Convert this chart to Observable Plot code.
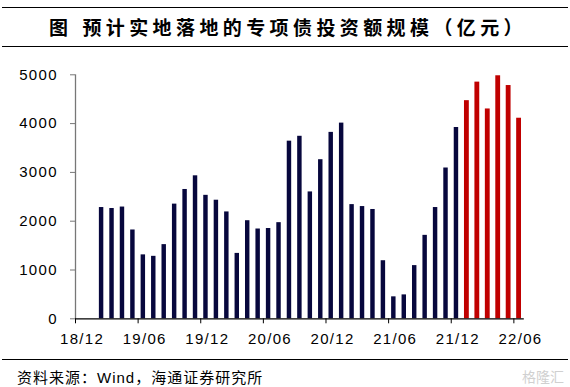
<!DOCTYPE html>
<html>
<head>
<meta charset="utf-8">
<script src="https://cdn.jsdelivr.net/npm/d3@7"></script>
<script src="https://cdn.jsdelivr.net/npm/@observablehq/plot@0.6"></script>
<style>
  html, body { margin: 0; padding: 0; background: #fff; }
  body { width: 570px; height: 387px; overflow: hidden; position: relative; font-family: "Liberation Sans", Arial, sans-serif; }
  #title { height: 50px; position: relative; }
  #title .box { position: absolute; left: 2px; right: 2px; top: 7px; height: 38px; border-top: 1px solid #000; border-bottom: 1px solid #000; }
  #title .txt { position: absolute; left: 47px; top: 0; line-height: 38px; font-family: "Noto Sans CJK SC", sans-serif; font-weight: bold; font-size: 19px; letter-spacing: 4.4px; color: #000; white-space: nowrap; }
  #title .fig { margin-right: 10px; }
  #chart { height: 309px; }
  #footer { position: relative; height: 28px; margin: 0 2px; border-top: 1px solid #000; }
  #footer .txt { position: absolute; left: 15px; top: 0; line-height: 36px; font-family: "Liberation Sans", "Noto Sans CJK SC", sans-serif; font-size: 15px; letter-spacing: 1px; color: #000; white-space: nowrap; }
  #footer .wm { position: absolute; right: 4px; top: 6px; font-family: "Noto Sans CJK SC", sans-serif; font-size: 14px; color: #d0d0d0; }
</style>
</head>
<body>
<div id="title"><div class="box"><div class="txt"><span class="fig">图</span>预计实地落地的专项债投资额规模（亿元）</div></div></div>
<div id="chart"></div>
<div id="footer"><div class="txt">资料来源：Wind，海通证券研究所</div><div class="wm">格隆汇</div></div>
<script>
// Months with bars (actual: 19/02–21/12, forecast: 22/01–22/06)
const actualMonths = ["19/02","19/03","19/04","19/05","19/06","19/07","19/08","19/09","19/10","19/11","19/12",
  "20/01","20/02","20/03","20/04","20/05","20/06","20/07","20/08","20/09","20/10","20/11","20/12",
  "21/01","21/02","21/03","21/04","21/05","21/06","21/07","21/08","21/09","21/10","21/11","21/12"];
const actualValues = [2280, 2260, 2290, 1820, 1310, 1280, 1520, 2350, 2650, 2930, 2530,
  2430, 2190, 1340, 2010, 1840, 1850, 1970, 3640, 3740, 2600, 3260, 3820,
  4010, 2340, 2300, 2240, 1190, 450, 490, 1090, 1710, 2280, 3090, 3920];
const forecastMonths = ["22/01","22/02","22/03","22/04","22/05","22/06"];
const forecastValues = [4470, 4850, 4300, 4980, 4780, 4110];
const tickLabels = ["18/12","19/06","19/12","20/06","20/12","21/06","21/12","22/06"];
const yTicks = [0, 1000, 2000, 3000, 4000, 5000];

// month label -> month index counted from 18/12
const monthIndex = s => { const [yy, mm] = s.split("/").map(Number); return (yy - 18) * 12 + (mm - 12); };
const nMonths = monthIndex(tickLabels[tickLabels.length - 1]) + 1;

const actual = actualMonths.map((m, i) => ({month: m, value: actualValues[i]}));
const forecast = forecastMonths.map((m, i) => ({month: m, value: forecastValues[i]}));
const ticks = tickLabels.map(monthIndex);
const labelOf = new Map(tickLabels.map(t => [monthIndex(t), t]));

const chart = Plot.plot({
  width: 570,
  height: 309,
  marginLeft: 75,
  marginRight: 46.2,
  marginTop: 24.3,
  marginBottom: 40.7,
  style: {fontFamily: "'Liberation Sans', Arial, sans-serif", fontSize: "15px", letterSpacing: "1.3px", color: "#000", background: "#fff", overflow: "visible"},
  x: {domain: [0, nMonths]},
  y: {domain: [0, 5000]},
  marks: [
    Plot.rectY(actual, {x1: d => monthIndex(d.month), x2: d => monthIndex(d.month) + 1, y1: 0, y2: "value", fill: "#07073d", insetLeft: 3, insetRight: 3}),
    Plot.rectY(forecast, {x1: d => monthIndex(d.month), x2: d => monthIndex(d.month) + 1, y1: 0, y2: "value", fill: "#c00000", insetLeft: 2.8, insetRight: 2.8}),
    Plot.ruleX([0], {stroke: "#777", strokeWidth: 1.3}),
    Plot.axisY({ticks: yTicks, tickSize: 5, tickPadding: 12.7, stroke: "#777", fill: "#000", label: null, tickFormat: d => String(d)}),
    Plot.axisX({ticks, tickSize: 5, tickFormat: () => "", stroke: "#000", label: null}),
    Plot.axisX({ticks, tickSize: 0, tickPadding: 15, dx: 6.6, tickFormat: d => labelOf.get(d), fill: "#000", label: null}),
    Plot.ruleY([0], {stroke: "#000", strokeWidth: 1.3})
  ]
});
document.getElementById("chart").appendChild(chart);
</script>
</body>
</html>
